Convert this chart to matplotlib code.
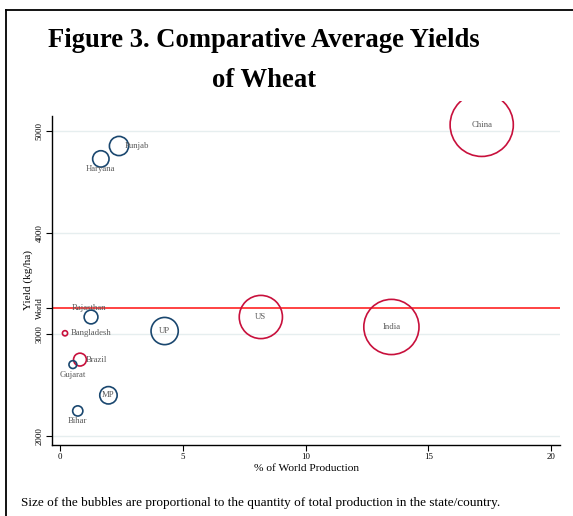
import matplotlib
matplotlib.use("Agg")
import matplotlib.pyplot as plt
from matplotlib.lines import Line2D
from matplotlib.transforms import Bbox, TransformedBbox

plt.rcParams['font.family'] = ['Liberation Serif', 'DejaVu Serif']

# share of world wheat production (%), yield (kg/ha), bubble weight
places = ['Punjab', 'Haryana', 'Rajasthan', 'Bangladesh', 'UP', 'Brazil',
          'Gujarat', 'MP', 'Bihar', 'US', 'India', 'China']
share = [2.40, 1.66, 1.26, 0.20, 4.26, 0.81, 0.52, 1.97, 0.72, 8.18, 13.50, 17.18]
yields = [4852, 4725, 3170, 3010, 3032, 2751, 2702, 2400, 2246, 3170, 3072, 5060]
weight = [1.63, 1.19, 0.84, 0.12, 3.28, 0.73, 0.27, 1.34, 0.46, 8.27, 13.5, 17.7]
is_country = [False, False, False, True, False, True, False, False, False, True, True, True]
# where the label sits relative to the bubble: 'r' right, 'b' below, 'a' above, 'c' centre
label_pos = ['r', 'b', 'a', 'r', 'c', 'r', 'b', 'c', 'b', 'c', 'c', 'c']

world_yield = 3256
xticks = [0, 5, 10, 15, 20]
yticks = [2000, 3000, 4000, 5000]

navy = '#1a476f'
cranberry = '#c8103c'

W, H = 573, 516
fig = plt.figure(figsize=(W / 100, H / 100), dpi=100)
ax = fig.add_axes([52 / W, 1 - 445 / H, (560 - 52) / W, (445 - 116) / H])

ax.set_xlim(-0.33, 20.37)
ax.set_ylim(1911, 5147)

for y in yticks:
    ax.axhline(y, color='#e6eeef', lw=1.0, zorder=0)
ax.axhline(world_yield, color='#ff1010', lw=1.1, zorder=1)

colors = [cranberry if c else navy for c in is_country]
bubbles = ax.scatter(share, yields, s=[w * 117 for w in weight],
                     facecolors='none', edgecolors=colors, linewidths=1.2,
                     zorder=3)
# bubbles may spill above the plot area, up to just under the title
bubbles.set_clip_path(None)
bubbles.set_clip_box(TransformedBbox(Bbox([[0, 0], [1, 1 - 101 / H]]),
                                     fig.transFigure))

offsets = {'r': ((6, 0), 'left', 'center'),
           'b': ((0, -10), 'center', 'center'),
           'a': ((-2, 9), 'center', 'center'),
           'c': ((0, 0), 'center', 'center')}
for name, x, y, p in zip(places, share, yields, label_pos):
    off, ha, va = offsets[p]
    ax.annotate(name, (x, y), xytext=off, textcoords='offset pixels',
                ha=ha, va=va, fontsize=6.3, color='#5a5a5a', zorder=4)

ax.set_xticks(xticks)
ax.set_xticklabels([str(t) for t in xticks])
ax.set_yticks(yticks + [world_yield])
ax.set_yticklabels([str(t) for t in yticks] + ['World'], rotation=90,
                   va='center')
ax.tick_params(axis='both', labelsize=6.3, length=4, width=0.8,
               color='black', pad=2)

for side in ('top', 'right'):
    ax.spines[side].set_visible(False)
for side in ('left', 'bottom'):
    ax.spines[side].set_linewidth(1.0)

ax.set_xlabel('% of World Production', fontsize=8.2, labelpad=2)
ax.set_ylabel('Yield (kg/ha)', fontsize=8.2, labelpad=2)

fig.text(264 / W, 1 - 47 / H, 'Figure 3. Comparative Average Yields',
         ha='center', va='baseline', fontsize=19.2, fontweight='bold')
fig.text(264 / W, 1 - 87 / H, 'of Wheat',
         ha='center', va='baseline', fontsize=19.2, fontweight='bold')

fig.text(21 / W, 1 - 506 / H,
         'Size of the bubbles are proportional to the quantity of total '
         'production in the state/country.',
         ha='left', va='baseline', fontsize=9.5)

# frame lines along the top and left edge of the page
fig.add_artist(Line2D([6 / W, 1], [1 - 9.5 / H, 1 - 9.5 / H],
                      transform=fig.transFigure, color='black', lw=1.3))
fig.add_artist(Line2D([6 / W, 6 / W], [0, 1 - 9.5 / H],
                      transform=fig.transFigure, color='black', lw=1.3))

fig.savefig('out.png', dpi=100)
